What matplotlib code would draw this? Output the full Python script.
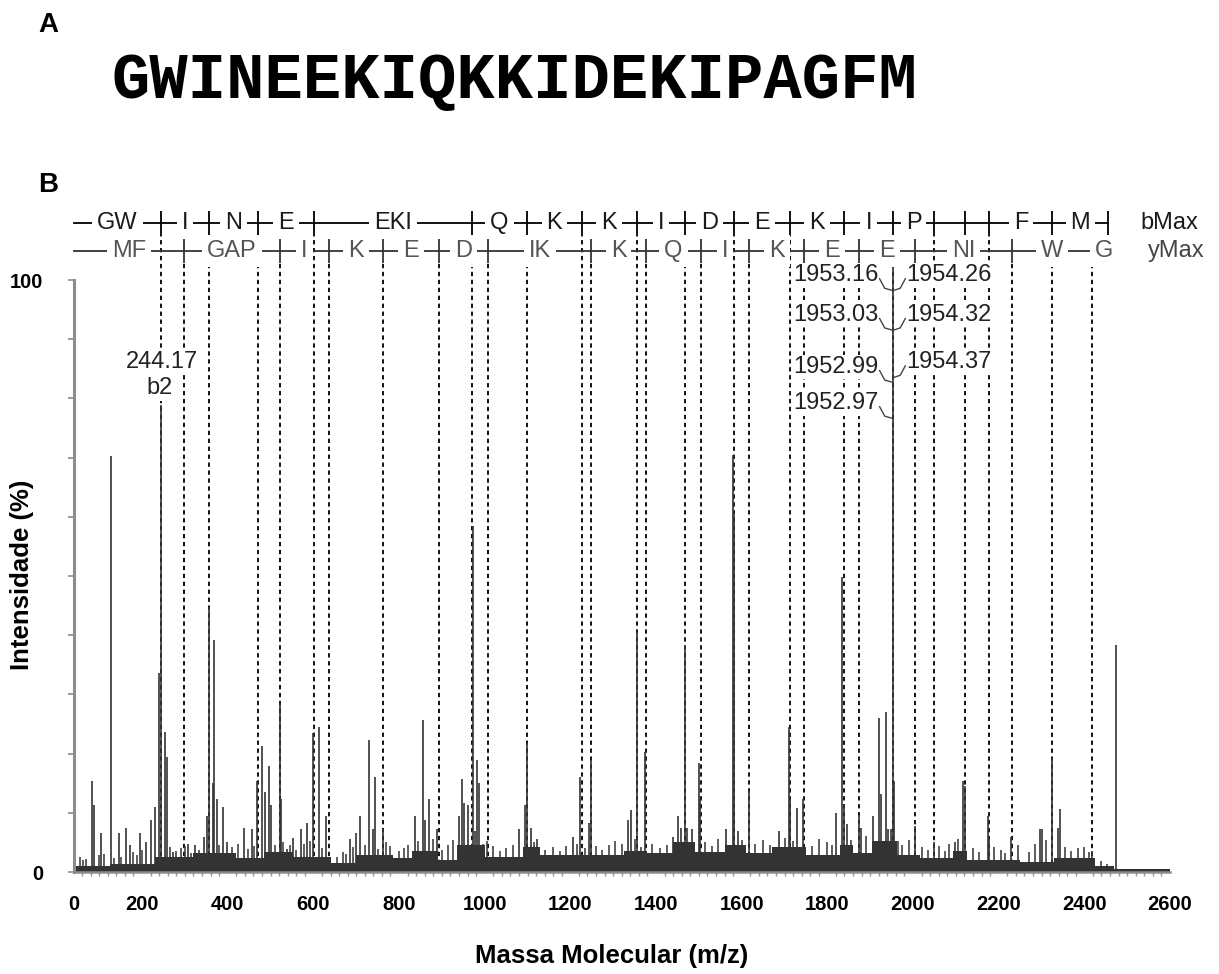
import matplotlib
matplotlib.use("Agg")
import matplotlib.pyplot as plt
import numpy as np

plt.rcParams['font.family'] = ['Liberation Sans', 'DejaVu Sans']

# %% data
sequence = "GWINEEKIQKKIDEKIPAGFM"

peak_mz = [84, 88, 103, 127, 147, 162, 172, 195, 209, 220, 230, 240, 244.2, 254, 259,
           273, 308, 324, 345, 351, 357, 366, 369, 374, 390, 398, 439, 457, 468, 481,
           486, 496, 501, 521, 524, 539, 553, 570, 584, 600, 613, 629, 686, 700, 710,
           730, 740, 744, 763, 837, 855, 861, 870, 889, 941, 948, 952, 962, 972, 977,
           981, 987, 1079, 1094, 1099, 1107, 1121, 1207, 1223, 1244, 1248, 1335, 1341,
           1355, 1374, 1440, 1451, 1458, 1467, 1472, 1485, 1501, 1503, 1563, 1579, 1582,
           1592, 1616, 1686, 1710, 1713, 1729, 1744, 1820, 1835, 1840, 1845, 1874, 1878,
           1907, 1921, 1925, 1936, 1942, 1948, 1953.1, 1956, 2005, 2049, 2098, 2117,
           2121, 2174, 2178, 2228, 2297, 2301, 2325, 2339, 2344, 2417, 2475]
peak_int = [15.4, 11.3, 6.6, 70.2, 6.6, 7.5, 4.5, 6.6, 5.1, 8.8, 11.0, 33.6, 78.9, 23.7, 19.4,
            3.3, 4.8, 4.5, 5.9, 9.5, 44.8, 15.0, 39.2, 12.4, 11.0, 5.1, 7.5, 7.2, 15.4, 21.2,
            13.5, 17.9, 11.3, 28.5, 12.4, 3.9, 5.7, 7.2, 8.2, 23.4, 24.5, 9.4, 5.6, 6.6, 9.4,
            22.3, 7.2, 16.1, 7.3, 9.4, 25.6, 8.8, 12.4, 7.2, 9.4, 15.7, 11.7, 11.3, 58.4, 6.9,
            18.9, 15.0, 7.2, 11.3, 21.8, 7.5, 5.6, 5.9, 16.1, 8.2, 18.9, 8.8, 10.5,
            40.6, 20.2, 5.9, 9.4, 7.5, 38.1, 7.5, 7.2, 18.4, 12.4, 7.2, 70.4, 60.3,
            6.9, 13.8, 6.9, 24.5, 12.4, 10.8, 12.4, 10.0, 49.9, 11.3, 8.1, 9.6, 7.5,
            9.4, 26.0, 13.2, 27.1, 7.2, 7.2, 100.0, 15.4, 7.8, 5.1, 5.1, 15.3,
            14.5, 9.4, 5.7, 5.9, 7.2, 7.2, 19.3, 7.5, 10.6, 3.5, 38.3]

# small spikes riding on the noise floor
minor_mz = [55, 62, 70, 100, 112, 135, 152, 180, 188, 200, 265, 280, 292, 300, 315, 332,
            380, 410, 425, 448, 462, 510, 530, 545, 560, 578, 592, 620, 655, 668, 676, 692,
            720, 752, 770, 780, 800, 812, 822, 845, 880, 900, 915, 925, 995, 1005, 1020,
            1035, 1050, 1065, 1115, 1140, 1160, 1175, 1190, 1215, 1235, 1260, 1275, 1290,
            1305, 1320, 1350, 1365, 1390, 1410, 1425, 1515, 1530, 1545, 1600, 1630, 1650,
            1665, 1700, 1720, 1765, 1780, 1800, 1812, 1855, 1890, 1965, 1975, 1990, 2020,
            2035, 2060, 2075, 2085, 2105, 2140, 2155, 2190, 2205, 2215, 2245, 2270, 2285,
            2310, 2355, 2370, 2385, 2400, 2410, 2440, 2452]
minor_int = [2.5, 2.0, 2.2, 2.8, 3.0, 2.4, 2.6, 3.4, 2.8, 3.8, 4.2, 3.6, 4.0, 4.4, 3.2, 3.8,
             4.6, 4.2, 4.8, 3.9, 4.4, 4.6, 5.0, 4.5, 3.8, 4.8, 5.2, 4.0, 2.6, 3.4, 3.0, 4.2,
             4.5, 3.9, 5.0, 4.4, 3.6, 4.0, 4.6, 5.2, 5.6, 3.8, 4.6, 5.4, 4.8, 5.2, 4.4,
             3.6, 4.0, 4.6, 5.0, 3.8, 4.2, 3.6, 4.4, 4.8, 4.0, 4.4, 3.8, 4.6,
             5.2, 4.8, 5.6, 4.2, 4.8, 4.0, 4.6, 5.0, 4.4, 5.6, 5.4, 4.8, 5.4,
             4.6, 5.8, 5.2, 4.4, 5.6, 5.0, 4.6, 5.4, 6.0, 5.2, 4.6, 5.4, 4.2,
             3.8, 4.4, 3.6, 4.8, 5.6, 4.0, 3.4, 4.2, 3.8, 3.2, 4.6, 3.4, 4.8,
             5.4, 4.2, 3.6, 4.0, 4.2, 3.4, 1.8, 1.4]

# noise floor (step levels)
base_mz = [45, 125, 230, 320, 420, 485, 553, 640, 700, 787, 830, 890, 935, 1000,
           1090, 1130, 1325, 1380, 1440, 1490, 1560, 1610, 1670, 1750, 1830, 1860,
           1905, 1962, 2016, 2094, 2125, 2250, 2330, 2425, 2470, 2600]
base_int = [1.0, 1.3, 2.6, 3.2, 2.3, 3.4, 2.6, 1.5, 2.9, 2.3, 3.6, 2.0, 4.6, 2.6,
            4.2, 2.9, 3.6, 3.2, 5.0, 3.4, 4.6, 3.2, 4.2, 2.9, 4.6, 3.2,
            5.2, 2.9, 2.3, 3.6, 2.0, 1.7, 2.3, 1.0, 0.5, 0.5]

# fragment ladders (observed b / y ions and the residues between them)
b_ions = [244.11, 357.19, 471.24, 600.28, 970.50, 1098.56, 1226.65, 1354.75, 1467.83,
          1582.86, 1711.90, 1839.99, 1953.08, 2050.13, 2121.17, 2178.19, 2325.26, 2456.30]
b_res = ["GW", "I", "N", "E", "EKI", "Q", "K", "K", "I", "D", "E", "K", "I", "P",
         "", "", "F", "M"]
y_ions = [297.13, 522.24, 635.32, 763.42, 892.46, 1007.49, 1248.67, 1376.76, 1504.82,
          1617.90, 1746.00, 1875.04, 2004.08, 2231.21, 2417.29, 2474.31]
y_res = ["MF", "GAP", "I", "K", "E", "D", "IK", "K", "Q", "I", "K", "E", "E", "NI",
         "W", "G"]

cluster_left = ["1953.16", "1953.03", "1952.99", "1952.97"]
cluster_right = ["1954.26", "1954.32", "1954.37"]
base_peak = 1953.1

# %% figure
fig = plt.figure(figsize=(12.19, 9.74), dpi=100)
ax = fig.add_axes([74 / 1219, 102 / 974, 1096 / 1219, 115 * 5.92 / 974])
x_left = 41.1
ax.set_xlim(x_left, 2600)
ax.set_ylim(0, 115)

ink = '#333333'
ax.fill_between(base_mz, base_int, step='post', color=ink, lw=0, zorder=2)
ax.vlines(minor_mz, 0, minor_int, color=ink, lw=1.1, zorder=2)
ax.vlines(peak_mz, 0, peak_int, color=ink, lw=1.2, zorder=2)

# ladders
yb, yy = 109.6, 104.9
tick = 2.0
dash = (0, (2.4, 2.0))
ax.vlines(b_ions[:-1], 0, yb - tick, color='black', lw=1.3, linestyles=dash, zorder=1)
ax.vlines(y_ions[:-1], 0, yy - tick, color='black', lw=1.3, linestyles=dash, zorder=1)


def draw_row(ions, res, yrow, lcol, tcol, end_tick):
    edges = [x_left] + ions
    ax.plot([x_left, ions[-1]], [yrow, yrow], color=lcol, lw=1.3, clip_on=False, zorder=4)
    marks = ions if end_tick else ions[:-1]
    ax.vlines(marks, yrow - tick, yrow + tick, color=lcol, lw=1.3, clip_on=False, zorder=4)
    for i, lab in enumerate(res):
        if not lab:
            continue
        mid = 0.5 * (edges[i] + edges[i + 1])
        ax.text(mid, yrow, lab, ha='center', va='center', fontsize=17, color=tcol,
                bbox=dict(fc='white', ec='none', pad=3.5), zorder=5, clip_on=False)


draw_row(b_ions, b_res, yb, 'black', '#1a1a1a', True)
draw_row(y_ions, y_res, yy, '#333333', '#555555', False)
ax.text(2531, yb, "bMax", ha='left', va='center', fontsize=17, color='#1a1a1a', clip_on=False)
ax.text(2548, yy, "yMax", ha='left', va='center', fontsize=17, color='#444444', clip_on=False)

# b2 label
lbl = dict(fontsize=17, color='#222222', ha='center', va='center', zorder=6,
           bbox=dict(fc='white', ec='none', pad=1.5))
ax.text(246.5, 86.1, "244.17", **lbl)
ax.text(242, 81.8, "b2", **lbl)

# base peak cluster labels
ax.vlines(base_peak, 100, yy, color=ink, lw=1.2, zorder=3, clip_on=False)
left_y = [100.8, 94.1, 85.3, 79.2]
right_y = [100.8, 94.1, 86.1]
for txt, yv in zip(cluster_left, left_y):
    ax.text(1919, yv, txt, fontsize=17, color='#222222', ha='right', va='center', zorder=6,
            bbox=dict(fc='white', ec='none', pad=1.0), clip_on=False)
    ax.plot([1922, 1934, base_peak], [yv - 0.6, yv - 2.2, yv - 2.6], color='#444444', lw=1.0,
            zorder=6, clip_on=False)
for txt, yv in zip(cluster_right, right_y):
    ax.text(1985, yv, txt, fontsize=17, color='#222222', ha='left', va='center', zorder=6,
            bbox=dict(fc='white', ec='none', pad=1.0), clip_on=False)
    ax.plot([base_peak, 1970, 1982], [yv - 2.6, yv - 2.2, yv - 0.6], color='#444444', lw=1.0,
            zorder=6, clip_on=False)

# axes styling
for s in ('top', 'right'):
    ax.spines[s].set_visible(False)
axcol = '#8c8c8c'
ax.spines['left'].set_bounds(0, 100)
ax.spines['left'].set_color(axcol)
ax.spines['left'].set_linewidth(2.2)
ax.spines['bottom'].set_color(axcol)
ax.spines['bottom'].set_linewidth(1.8)

ax.set_yticks([0, 100])
ax.set_yticklabels(['0', '100'], fontsize=14.5, fontweight='bold')
ax.set_yticks(np.arange(10, 100, 10), minor=True)
ax.tick_params(axis='y', which='both', direction='out', length=4.3, width=1.2, color=axcol, pad=18)

ax.set_xticks([x_left] + list(range(200, 2601, 200)))
ax.set_xticklabels([str(v) for v in range(0, 2601, 200)], fontsize=14.5, fontweight='bold')
ax.set_xticks(np.arange(60, 2600, 20), minor=True)
ax.tick_params(axis='x', which='major', length=0, pad=16.5)
ax.tick_params(axis='x', which='minor', direction='out', length=3, width=1, color='#999999')

fig.text(0.502, 1 - 956 / 974, "Massa Molecular (m/z)", ha='center', va='center',
         fontsize=18.5, fontweight='bold')
fig.text(22 / 1219, 1 - 575 / 974, "Intensidade (%)", ha='center', va='center',
         rotation=90, fontsize=18.5, fontweight='bold')

fig.text(38 / 1219, 1 - 32 / 974, "A", fontsize=20, fontweight='bold', va='baseline')
fig.text(38 / 1219, 1 - 192 / 974, "B", fontsize=20, fontweight='bold', va='baseline')
fig.text(112 / 1219, 1 - 98 / 974, sequence, family=['Liberation Mono', 'DejaVu Sans Mono'],
         fontweight='bold', fontsize=46, va='baseline', ha='left')

fig.savefig("out.png", dpi=100)
